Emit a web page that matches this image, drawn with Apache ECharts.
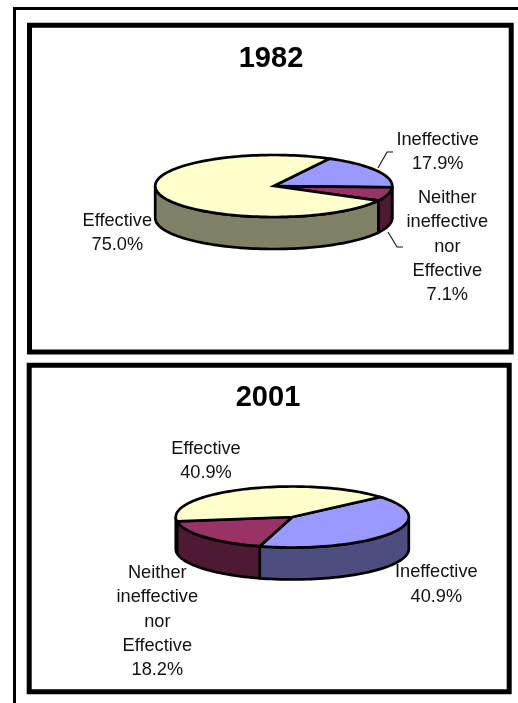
<!DOCTYPE html>
<html>
<head>
<meta charset="utf-8">
<style>html,body{margin:0;padding:0;background:#fff}#c{width:518px;height:703px}</style>
<script src="https://cdn.jsdelivr.net/npm/echarts@6/dist/echarts.min.js"></script>
</head>
<body>
<div id="c"></div>
<script>
const years = ['1982', '2001'];
const categories = ['Ineffective', 'Neither\nineffective\nnor\nEffective', 'Effective'];
const values1982 = [17.9, 7.1, 75.0];
const values2001 = [40.9, 18.2, 40.9];
const topColors = ['#9999FF', '#993366', '#FFFFCC'];
const wallColors = ['#4D4D80', '#4D1933', '#808066'];

const FONT = '"Liberation Sans", Arial, sans-serif';
const LABEL_SIZE = 18.2, LINE_H = 24.4;

const layouts = [
  { cx: 273.7, cy: 186, rx: 118.5, ry: 31, depth: 32, start: 62,
    labels: [[437.7, 152], [447.3, 246.5], [117.3, 233]],
    leaders: [[[378, 168], [387, 152], [393, 152]], [[388, 232], [397, 247], [403, 247]], null] },
  { cx: 292.3, cy: 517, rx: 116.5, ry: 30.5, depth: 32, start: 41,
    labels: [[436.3, 584.5], [157.3, 621.5], [206, 461]],
    leaders: [null, null, null] }
];

function arcPts(g, a, b, dy) {
  const n = Math.max(2, Math.ceil(Math.abs(a - b) / 2)), pts = [];
  for (let i = 0; i <= n; i++) {
    const t = (a + (b - a) * i / n) * Math.PI / 180;
    pts.push([g.cx + g.rx * Math.cos(t), g.cy - g.ry * Math.sin(t) + dy]);
  }
  return pts;
}

function pieSeries(values, g) {
  const data = values.map((v, i) => ({
    name: categories[i],
    value: [v, values.slice(0, i).reduce((s, x) => s + x, 0), values.reduce((s, x) => s + x, 0)]
  }));
  return {
    type: 'custom',
    coordinateSystem: 'none',
    silent: true,
    animation: false,
    data,
    renderItem(params, api) {
      const i = params.dataIndex;
      const v = api.value(0), before = api.value(1), total = api.value(2);
      // clockwise from the start angle, in the ellipse's parameter angle
      const a0 = g.start - before / total * 360;
      const a1 = g.start - (before + v) / total * 360;
      const stroke = { stroke: '#000', lineWidth: 2.7, lineJoin: 'miter', miterLimit: 4, fill: null };
      const children = [];
      // front wall: parts of the arc with parameter angle in [-180,0] or [-540,-360]
      [[0, -180], [-360, -540]].forEach(([hi, lo]) => {
        const h = Math.min(a0, hi), l = Math.max(a1, lo);
        if (h > l) {
          const upper = arcPts(g, h, l, 0);
          const lower = arcPts(g, l, h, g.depth);
          children.push({
            type: 'polygon', z2: 1,
            shape: { points: upper.concat(lower) },
            style: Object.assign({}, stroke, { fill: wallColors[i] })
          });
        }
      });
      // top face
      children.push({
        type: 'polygon', z2: 2,
        shape: { points: [[g.cx, g.cy]].concat(arcPts(g, a0, a1, 0)) },
        style: Object.assign({}, stroke, { fill: topColors[i] })
      });
      if (g.leaders[i]) {
        children.push({
          type: 'polyline', z2: 0,
          shape: { points: g.leaders[i] },
          style: { stroke: '#111', lineWidth: 1.1, fill: null }
        });
      }
      children.push({
        type: 'text', z2: 3,
        x: g.labels[i][0], y: g.labels[i][1],
        style: {
          text: categories[i] + '\n' + v.toFixed(1) + '%',
          font: LABEL_SIZE + 'px ' + FONT,
          lineHeight: LINE_H,
          fill: '#111',
          align: 'center',
          verticalAlign: 'middle'
        }
      });
      return { type: 'group', children };
    }
  };
}

function frame(x, y, w, h, lw) {
  return { type: 'rect', shape: { x, y, width: w, height: h }, style: { fill: '#fff', stroke: '#000', lineWidth: lw }, z: -1 };
}

const chart = echarts.init(document.getElementById('c'), null, { renderer: 'canvas' });
chart.setOption({
  backgroundColor: '#fff',
  animation: false,
  title: [
    { text: years[0], left: 266, top: 54, textAlign: 'center', textVerticalAlign: 'middle',
      textStyle: { fontFamily: FONT, fontSize: 29, fontWeight: 'bold', color: '#000' } },
    { text: years[1], left: 263, top: 393.2, textAlign: 'center', textVerticalAlign: 'middle',
      textStyle: { fontFamily: FONT, fontSize: 29, fontWeight: 'bold', color: '#000' } }
  ],
  graphic: [
    frame(14.5, 8.5, 600, 800, 3),
    frame(29.5, 25.3, 481.7, 326.8, 5),
    frame(29.2, 365.2, 480, 326.6, 5)
  ],
  series: [pieSeries(values1982, layouts[0]), pieSeries(values2001, layouts[1])]
});
</script>
</body>
</html>
